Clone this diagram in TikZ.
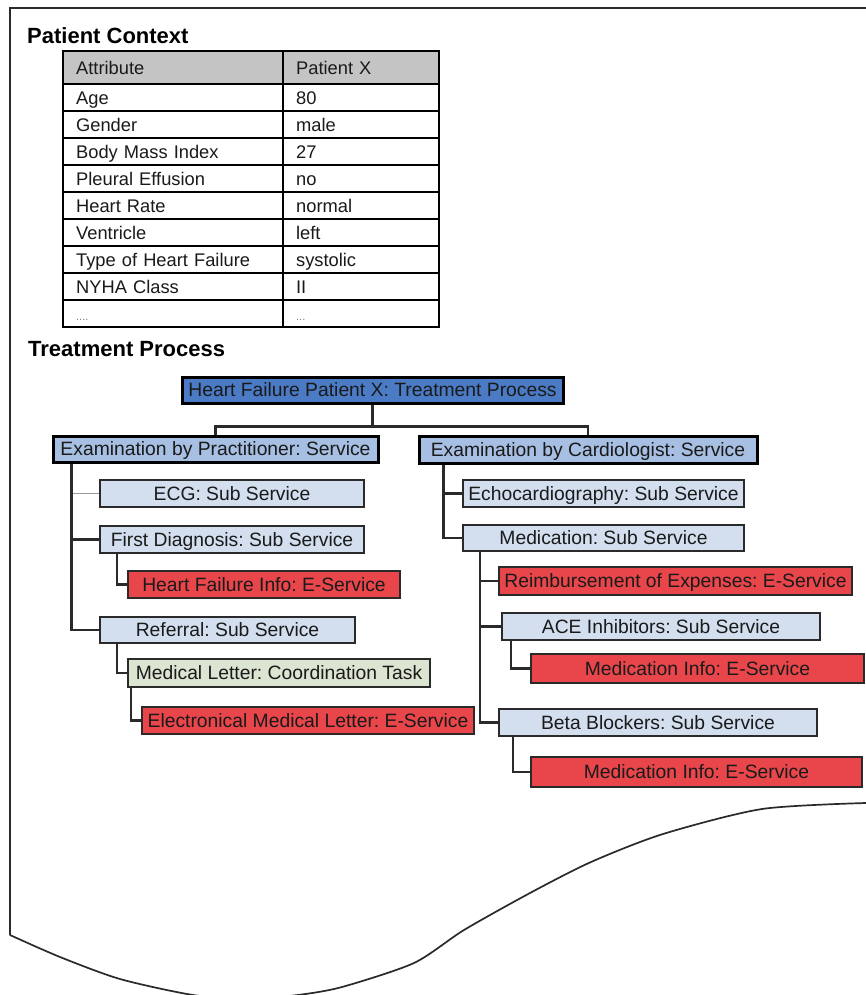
\documentclass[tikz,border=0pt]{standalone}
\usepackage{fontspec}
\setmainfont{Liberation Sans}
\frenchspacing
\definecolor{rootblue}{HTML}{4A7BC4}
\definecolor{servblue}{HTML}{A7BFE2}
\definecolor{subblue}{HTML}{D3DEEF}
\definecolor{eserv}{HTML}{E8464B}
\definecolor{coord}{HTML}{DCE4D2}
\definecolor{hdrgray}{HTML}{C4C4C4}
\definecolor{linegray}{HTML}{2A2A2A}
\definecolor{lightconn}{HTML}{9A9A9A}
\definecolor{txt}{HTML}{1A1A1A}
\tikzset{
  treebox/.style={inner sep=0pt, text=txt, font=\fontsize{19.3}{22}\selectfont\frenchspacing, text height=13.8pt, text depth=0pt},
  mainbox/.style={treebox, draw=black, line width=3pt},
  subbox/.style={treebox, draw=linegray, line width=2.3pt},
  conn/.style={draw=linegray, line width=2.4pt},
  lconn/.style={draw=lightconn, line width=1.3pt},
  cell/.style={draw=black, line width=2.3pt, anchor=north west, inner xsep=13pt, inner ysep=0pt, align=left, text=txt,
    font=\fontsize{18.3}{20}\selectfont\frenchspacing, text height=13pt, text depth=0pt, minimum height=27pt},
  cola/.style={cell, text width=194pt},
  colb/.style={cell, text width=130pt},
  heading/.style={anchor=base west, font=\fontsize{22}{24}\selectfont\bfseries, inner sep=0pt},
  frame/.style={draw=linegray, line width=1.7pt}
}
\begin{document}
\begin{tikzpicture}[x=1pt, y=-1pt]
\useasboundingbox (0,0) rectangle (866,995);
\fill[white] (0,0) rectangle (866,995);

% page frame
\draw[frame] (866,8) -- (10,8) -- (10,935)
  plot[smooth, tension=0.45] coordinates {(10,935) (60,957) (120,979) (193,995) (250,999) (298,995) (342,987) (414,963) (464,930) (530,893) (591,862) (663,834) (762,809) (866,803)};

% headings
\node[heading] (hctx) at (27,44) {Patient Context};
\node[heading] (htp) at (28,356) {Treatment Process};

% table
\node[cola, fill=hdrgray, minimum height=33pt] (a0) at (62,50) {Attribute};
\node[colb, fill=hdrgray, minimum height=33pt] (b0) at (282,50) {Patient X};
\foreach \a/\b [count=\i] in {Age/80, Gender/male, Body Mass Index/27, Pleural Effusion/no, Heart Rate/normal, Ventricle/left, Type of Heart Failure/systolic, NYHA Class/II}{
  \node[cola] (a\i) at (62,{83+27*(\i-1)}) {\a};
  \node[colb] (b\i) at (282,{83+27*(\i-1)}) {\b};
}
\node[cola] (a9) at (62,299) {\textcolor{gray}{\fontsize{11}{12}\selectfont ....}};
\node[colb] (b9) at (282,299) {\textcolor{gray}{\fontsize{11}{12}\selectfont ...}};

% tree nodes
\node[mainbox, fill=rootblue, minimum width=381pt, minimum height=26pt] (root) at (372.5,390) {Heart Failure Patient X: Treatment Process};
\node[mainbox, fill=servblue, minimum width=325pt, minimum height=26pt] (prac) at (215.5,449) {Examination by Practitioner: Service};
\node[mainbox, fill=servblue, minimum width=338pt, minimum height=27pt] (card) at (588,449.5) {Examination by Cardiologist: Service};

\node[subbox, fill=subblue, minimum width=264pt, minimum height=27pt] (ecg) at (232,493.5) {ECG: Sub Service};
\node[subbox, fill=subblue, minimum width=264pt, minimum height=27pt] (fd) at (232,539.5) {First Diagnosis: Sub Service};
\node[subbox, fill=eserv, minimum width=272pt, minimum height=27pt] (hf) at (264,584.5) {Heart Failure Info: E-Service};
\node[subbox, fill=subblue, minimum width=255pt, minimum height=26pt] (ref) at (227.5,630) {Referral: Sub Service};
\node[subbox, fill=coord, minimum width=302pt, minimum height=28pt] (ml) at (279,673) {Medical Letter: Coordination Task};
\node[subbox, fill=eserv, minimum width=332pt, minimum height=27pt] (eml) at (308,720.5) {Electronical Medical Letter: E-Service};

\node[subbox, fill=subblue, minimum width=281pt, minimum height=27pt] (echo) at (603.5,493.5) {Echocardiography: Sub Service};
\node[subbox, fill=subblue, minimum width=281pt, minimum height=26pt] (med) at (603.5,538) {Medication: Sub Service};
\node[subbox, fill=eserv, minimum width=353pt, minimum height=28pt] (reimb) at (675.5,581) {Reimbursement of Expenses: E-Service};
\node[subbox, fill=subblue, minimum width=318pt, minimum height=27pt] (ace) at (661,626.5) {ACE Inhibitors: Sub Service};
\node[subbox, fill=eserv, minimum width=333pt, minimum height=29pt] (mi1) at (697.5,668.5) {Medication Info: E-Service};
\node[subbox, fill=subblue, minimum width=318pt, minimum height=27pt] (beta) at (658,722.5) {Beta Blockers: Sub Service};
\node[subbox, fill=eserv, minimum width=331pt, minimum height=30pt] (mi2) at (696.5,772) {Medication Info: E-Service};

% connectors
\draw[conn] (root.south) -- ++(0,22) coordinate (rj) -| (prac.north);
\draw[conn] (rj) -| (card.north);

\draw[lconn] ([xshift=20pt]prac.south west) |- (ecg.west);
\draw[conn] ([xshift=20pt]prac.south west) |- (fd.west);
\draw[conn] ([xshift=20pt]prac.south west) |- (ref.west);
\draw[conn] ([xshift=18pt]fd.south west) |- (hf.west);
\draw[conn] ([xshift=18pt]ref.south west) |- (ml.west);
\draw[conn] ([xshift=4pt]ml.south west) |- (eml.west);

\draw[conn] ([xshift=26pt]card.south west) |- (echo.west);
\draw[conn] ([xshift=26pt]card.south west) |- (med.west);
\draw[conn] ([xshift=18pt]med.south west) |- (reimb.west);
\draw[conn] ([xshift=18pt]med.south west) |- (ace.west);
\draw[conn] ([xshift=18pt]med.south west) |- (beta.west);
\draw[conn] ([xshift=10pt]ace.south west) |- (mi1.west);
\draw[conn] ([xshift=15pt]beta.south west) |- (mi2.west);
\end{tikzpicture}
\end{document}
